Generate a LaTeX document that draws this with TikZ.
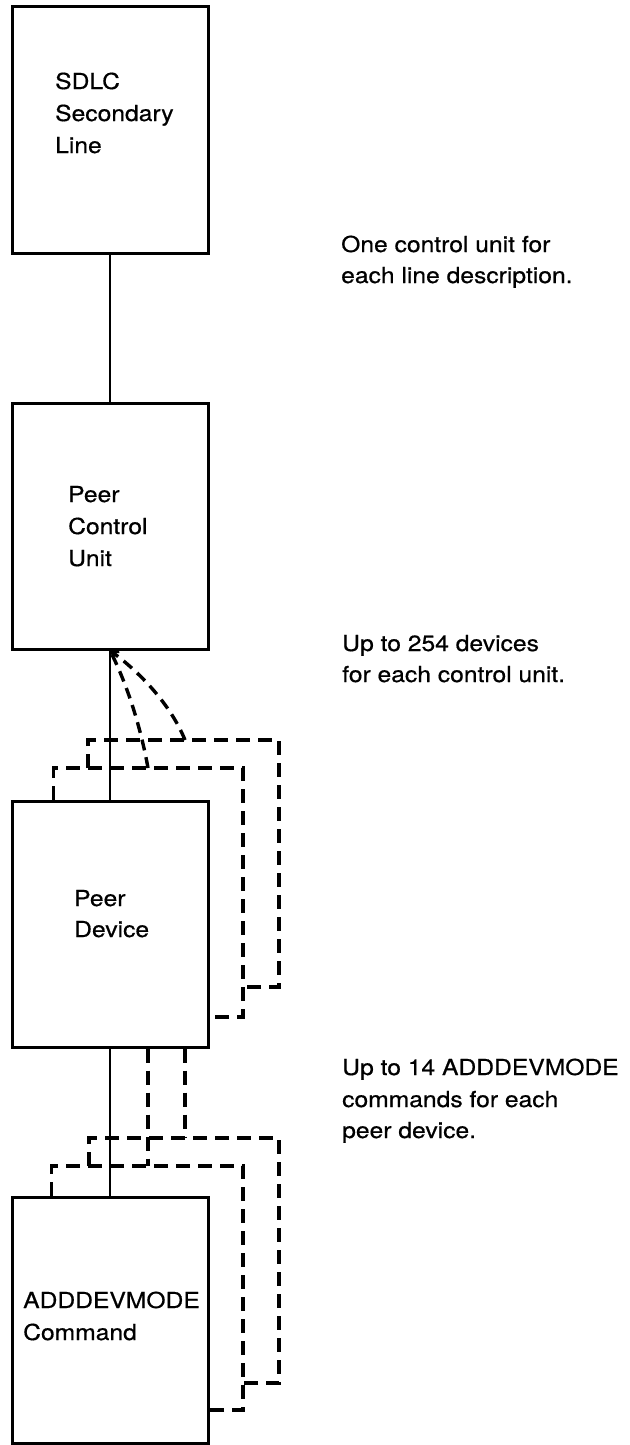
\documentclass[tikz,border=0pt]{standalone}
\usepackage{fontspec}
\setmainfont[FakeStretch=1.12,FakeBold=0.6]{TeX Gyre Heros}
\usetikzlibrary{arrows.meta,calc}
\begin{document}
\begin{tikzpicture}[x=1pt,y=-1pt,
  box/.style={draw, line width=3pt, minimum width=196pt, minimum height=246pt, inner sep=0pt},
  lbl/.style={anchor=base west, inner sep=0pt, font=\fontsize{22}{31.5}\selectfont},
  solidlink/.style={line width=2.8pt},
  dashlink/.style={line width=3.4pt, dash pattern=on 14pt off 8pt},
  curvelink/.style={line width=3.4pt, dash pattern=on 11pt off 7pt}]
\useasboundingbox (0,0) rectangle (629,1445);

% boxes
\node[box] (b1) at (110,130) {};
\node[box] (b2) at (110,526) {};
\node[box] (b3) at (110,924) {};
\node[box] (b4) at (110,1320) {};

% box texts
\node[lbl] (t1a) at (55,89) {SDLC};
\node[lbl] (t1b) at (55,121) {Secondary};
\node[lbl] (t1c) at (55,153) {Line};
\node[lbl] (t2a) at (68,502) {Peer};
\node[lbl] (t2b) at (68,534) {Control};
\node[lbl] (t2c) at (68,566) {Unit};
\node[lbl] (t3a) at (74,906) {Peer};
\node[lbl] (t3b) at (74,937) {Device};
\node[lbl] (t4a) at (23,1308) {ADDDEVMODE};
\node[lbl] (t4b) at (23,1340) {Command};

% side texts
\node[lbl] (s1a) at (341,252) {One control unit for};
\node[lbl] (s1b) at (341,283) {each line description.};
\node[lbl] (s2a) at (342,651) {Up to 254 devices};
\node[lbl] (s2b) at (342,682) {for each control unit.};
\node[lbl] (s3a) at (342,1075) {Up to 14 ADDDEVMODE};
\node[lbl] (s3b) at (342,1107) {commands for each};
\node[lbl] (s3c) at (342,1138) {peer device.};

% solid connectors
\draw[solidlink] (b1.south) -- (b2.north);
\draw[solidlink] (b2.south) -- (b3.north);
\draw[solidlink] (b3.south) -- (b4.north);

% stacked peer devices (dashed)
\coordinate (pdi) at (243,768);
\coordinate (pdo) at (279,740);
\coordinate (pdos) at (88,768);
\coordinate (pdoe) at (243,987);
\draw[dashlink] ($(b3.north west)+(43,0)$) |- (pdi) |- ($(b3.east)+(0,93)$);
\draw[dashlink] (pdos) |- (pdo) |- (pdoe);
\coordinate (c1s) at (185,740);
\coordinate (c2s) at (148,768);
\draw[curvelink, -{Straight Barb[length=6pt,width=9pt,line width=2.6pt]}] (c1s) .. controls (170,703) and (138,671) .. (b2.south);
\draw[curvelink] (c2s) .. controls (141,729) and (128,686) .. (b2.south);

% stacked commands (dashed)
\coordinate (cmi) at (243,1166);
\coordinate (cmo) at (279,1138);
\coordinate (cmos) at (89,1166);
\coordinate (cmoe) at (243,1383);
\draw[dashlink] ($(b4.north west)+(41,0)$) |- (cmi) |- ($(b4.east)+(0,90)$);
\draw[dashlink] (cmos) |- (cmo) |- (cmoe);
\coordinate (v1e) at (148,1166);
\coordinate (v2e) at (185,1138);
\draw[dashlink] ($(b3.south)+(38,0)$) -- (v1e);
\draw[dashlink] ($(b3.south)+(75,0)$) -- (v2e);
\end{tikzpicture}
\end{document}
